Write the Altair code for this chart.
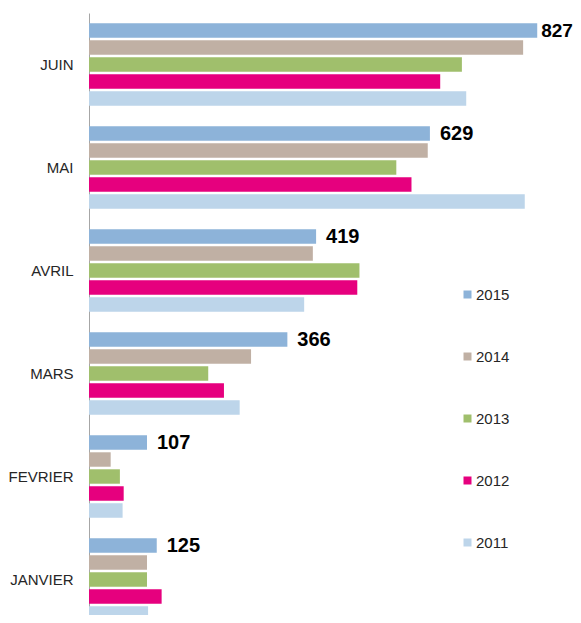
import altair as alt
import pandas as pd

months = ["JUIN", "MAI", "AVRIL", "MARS", "FEVRIER", "JANVIER"]
years = ["2015", "2014", "2013", "2012", "2011"]
v2015 = [827, 629, 419, 366, 107, 125]
v2014 = [801, 625, 413, 299, 40, 107]
v2013 = [688, 567, 499, 220, 57, 107]
v2012 = [648, 595, 495, 249, 64, 134]
v2011 = [696, 804, 397, 278, 62, 109]
colors = ["#8DB3D9", "#C0B0A4", "#A0BF6C", "#E6007E", "#BDD5EA"]

rows = []
for yr, vals in zip(years, [v2015, v2014, v2013, v2012, v2011]):
    for m, v in zip(months, vals):
        rows.append({"mois": m, "annee": yr, "valeur": v})
df = pd.DataFrame(rows)

y = alt.Y(
    "mois:N",
    sort=months,
    scale=alt.Scale(domain=months, range=[0, 618], paddingInner=0.2, paddingOuter=0.1),
    axis=alt.Axis(
        title=None, ticks=False, labelPadding=16, domainColor="#A6A6A6",
        labelFontSize=15, labelFont="Liberation Sans", labelColor="#262626",
    ),
)
x = alt.X("valeur:Q", scale=alt.Scale(domain=[0, 893], nice=False), axis=None)
yoff = alt.YOffset(
    "annee:N", sort=years,
    scale=alt.Scale(domain=years, paddingInner=0.15, paddingOuter=0.0),
)

bars = alt.Chart(df).mark_bar().encode(
    x=x,
    y=y,
    yOffset=yoff,
    color=alt.Color(
        "annee:N",
        sort=years,
        scale=alt.Scale(domain=years, range=colors),
        legend=alt.Legend(
            title=None, orient="none", legendX=371, legendY=274, padding=0,
            symbolType="square", symbolSize=64, symbolStrokeWidth=0,
            labelFontSize=15, labelFont="Liberation Sans", labelColor="#262626",
            labelOffset=1, rowPadding=46,
        ),
    ),
)

labels = alt.Chart(df).transform_filter(alt.datum.annee == "2015")

text = labels.transform_filter(alt.datum.valeur < 800).mark_text(
    align="left", baseline="middle", dx=10, fontSize=20, fontWeight="bold",
    font="Liberation Sans", color="black",
).encode(x=x, y=y, yOffset=yoff, text="valeur:Q")

text_top = labels.transform_filter(alt.datum.valeur >= 800).mark_text(
    align="left", baseline="middle", dx=4, fontSize=19, fontWeight="bold",
    font="Liberation Sans", color="black",
).encode(x=x, y=y, yOffset=yoff, text="valeur:Q")

chart = alt.layer(bars, text, text_top).properties(
    width=484, height=602,
    autosize=alt.AutoSizeParams(type="none"),
    padding={"left": 81, "top": 5, "right": 0, "bottom": 0},
).configure_view(stroke=None)

chart.save("out.html", embed_options={"renderer": "svg", "actions": False})
